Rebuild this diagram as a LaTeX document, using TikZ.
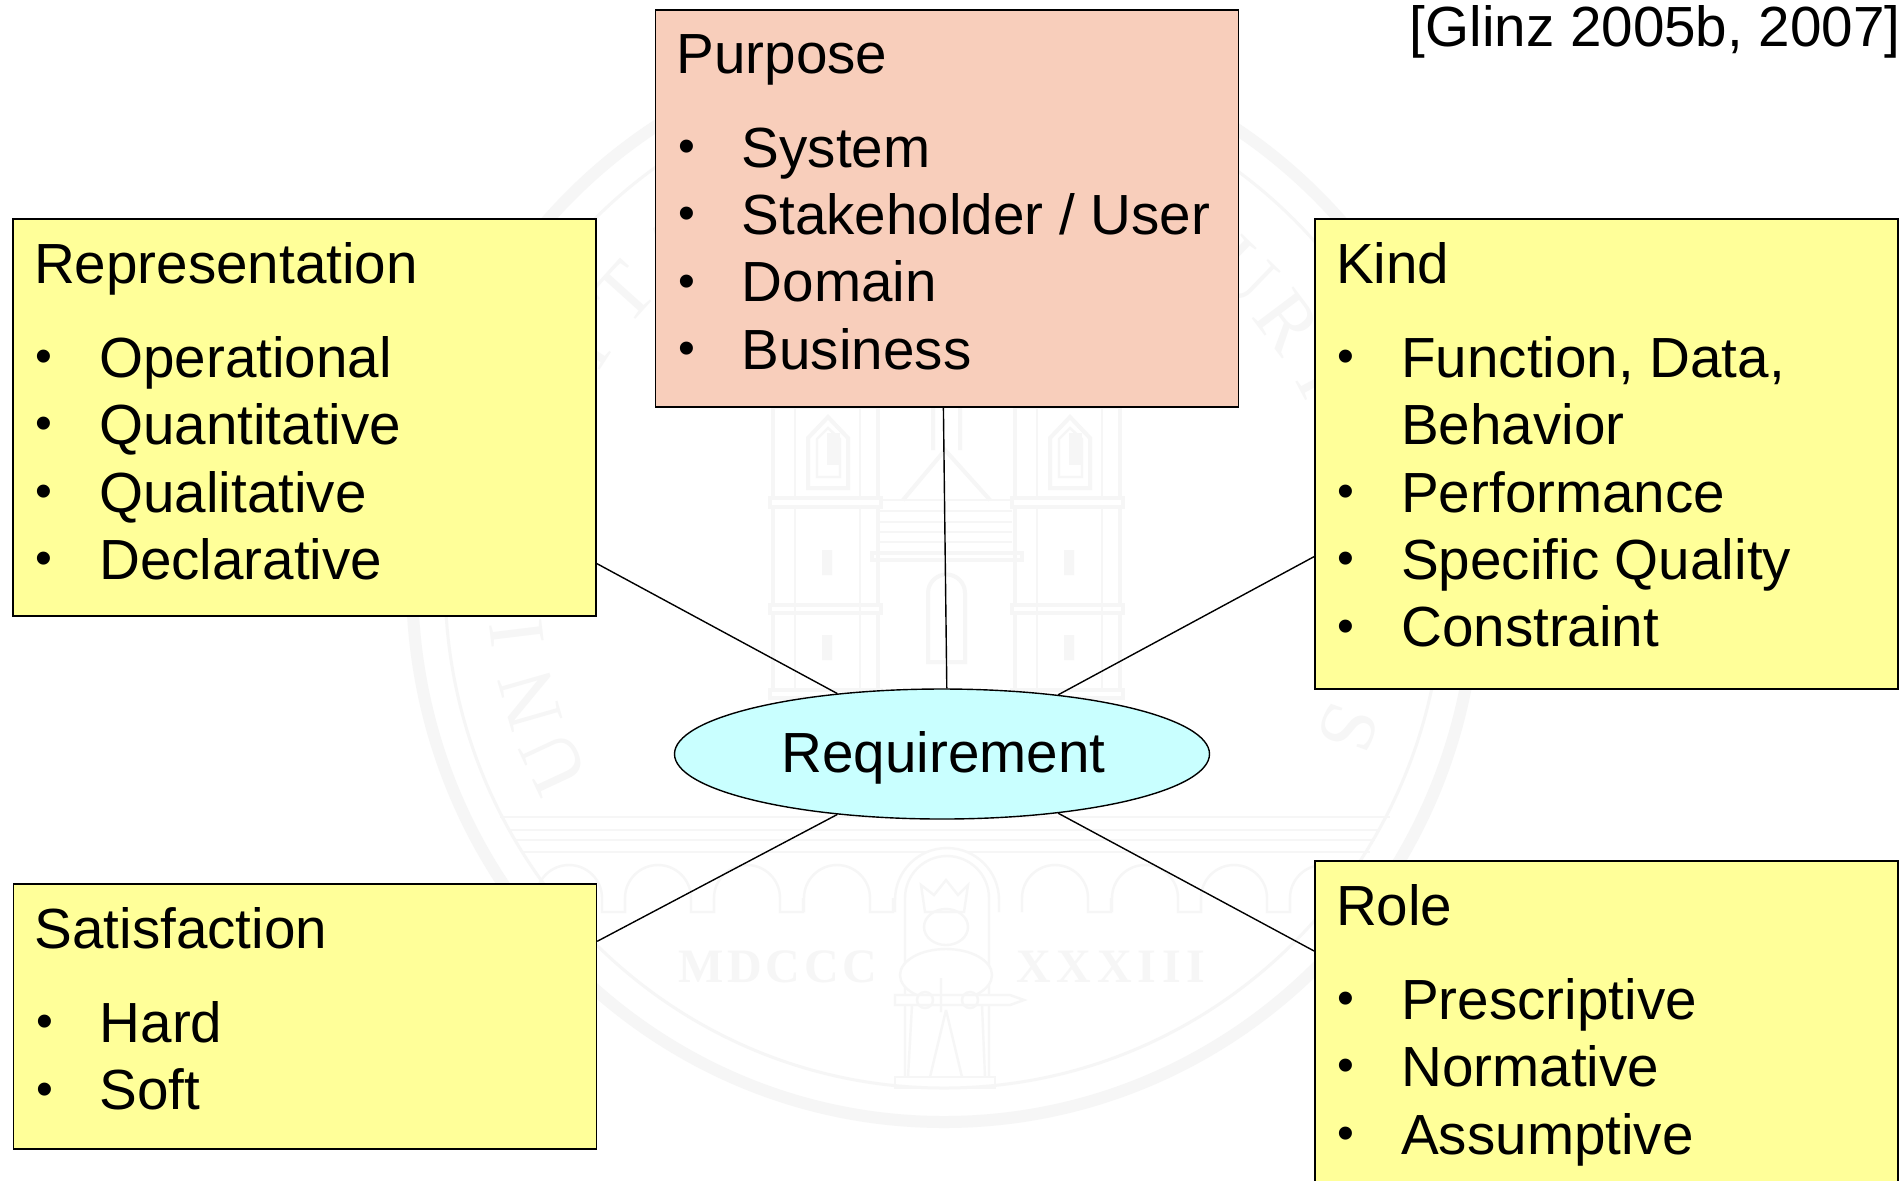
\documentclass[tikz,border=0pt]{standalone}
\usepackage{fontspec}
\setmainfont{Liberation Sans}
\newfontfamily\sealfont{Liberation Serif}
\usetikzlibrary{shapes.geometric}
\definecolor{boxyellow}{HTML}{FFFF99}
\definecolor{boxpeach}{HTML}{F8CEBB}
\definecolor{ellcyan}{HTML}{C9FFFF}
\definecolor{sealgray}{HTML}{F6F6F6}
\newcommand{\bitem}[1]{\makebox[32.6pt][l]{\hspace*{0.8pt}\fontsize{24}{24}\selectfont\raisebox{2.4pt}{\textbullet}}\spaceskip=7.8pt\relax #1}
\newcommand{\lift}[1]{\rule[-#1]{0pt}{0pt}}
\begin{document}
\begin{tikzpicture}[x=0.5pt,y=-0.5pt,
    seal/.style={draw=sealgray,line width=1.2pt},
    sealtext/.style={text=sealgray,inner sep=0pt,font={\sealfont\fontsize{40}{40}\selectfont}},
    sealyear/.style={text=sealgray,font={\sealfont\bfseries\fontsize{24}{24}\selectfont\addfontfeatures{LetterSpace=#1}}},
    listbox/.style={draw=black,line width=0.7pt,fill=boxyellow,rectangle,align=left,
      inner xsep=10.5pt,inner ysep=0pt,text width=270.5pt,minimum height=#1,
      font={\fontsize{28.3}{33.7}\selectfont}},
    listbox/.default=198.5pt,
    link/.style={draw=black,line width=0.7pt}]
  \clip (0,0) rectangle (1899,1180);
  \fill[white] (0,0) rectangle (1899,1180);
  \draw[seal,line width=6pt] (944,581) ellipse[x radius=532,y radius=541];
  \draw[seal,line width=1.5pt] (944,581) ellipse[x radius=499,y radius=507];
  \begin{scope}[shift={(944,581)}]
    \foreach \letter/\ang in {U/155,N/164,I/173,I/213,T/222,A/231,U/314,R/323,I/332,S/380}
      \node[sealtext,rotate=270-\ang] (letter\ang) at (\ang:430) {\letter};
  \end{scope}
  \draw[seal] (500,817) -- (1390,817) (510,830) -- (1380,830) (515,840) -- (1375,840) (522,852) -- (1370,852);
  \foreach \xa in {569,658,747,837,1055,1145,1234,1323}
    \draw[seal] (\xa-33,912) -- (\xa-33,898) arc[start angle=180,end angle=360,radius=33] -- ++(0,14) -- ++(23,0) -- ++(0,-14);
  \foreach \xa in {773,1015}
  {
    \draw[seal,line width=2pt] (\xa,407) rectangle ++(105,283);
    \draw[seal,fill=white,line width=2pt] (\xa-3,498) rectangle ++(111,9) (\xa-3,605) rectangle ++(111,8) (\xa-3,690) rectangle ++(111,8);
    \draw[seal] (\xa+22,407) -- ++(0,91) (\xa+87,407) -- ++(0,91) (\xa+22,507) -- ++(0,183) (\xa+87,507) -- ++(0,183);
    \draw[seal,line width=2pt] (\xa+35,488) -- ++(0,-50) -- ++(20,-21) -- ++(20,21) -- ++(0,50) -- cycle;
    \draw[seal] (\xa+44,477) -- ++(0,-38) -- ++(11,-11) -- ++(12,11) -- ++(0,38) -- cycle;
    \fill[sealgray] (\xa+54,465) rectangle ++(13,-32);
    \fill[sealgray] (\xa+49,575) rectangle ++(10,-25) (\xa+49,660) rectangle ++(10,-25);
  }
  \draw[seal,line width=2pt] (903,500) -- (945,450) -- (990,500) (933,450) -- (933,407) (960,450) -- (960,407);
  \draw[seal] (880,500) -- (1012,500) (880,511) -- (1012,511) (880,522) -- (1012,522) (880,532) -- (1012,532) (880,542) -- (1012,542);
  \draw[seal,line width=2pt] (872,553) rectangle (1022,560);
  \draw[seal,line width=2pt] (928,662) -- (928,593) arc[start angle=180,end angle=360,radius=18.5] -- (965,662) -- cycle;
  \node[sealyear=8] (yearleft) at (778,967) {MDCCC};
  \node[sealyear=12] (yearright) at (1111,967) {XXXIII};
  \draw[seal,fill=white] (895,912) -- (895,900) arc[start angle=180,end angle=360,radius=52] -- (999,912);
  \draw[seal] (905,1077) -- (905,898) arc[start angle=180,end angle=360,radius=42] -- (989,1077);
  \draw[seal] (925,912) -- (921,885) -- (934,895) -- (946,880) -- (958,895) -- (968,885) -- (964,912) -- cycle;
  \draw[seal] (946,927) ellipse[x radius=22,y radius=18];
  \draw[seal,fill=white] (946,975) ellipse[x radius=46,y radius=26];
  \draw[seal] (912,1005) -- (908,1077) (982,1005) -- (985,1077) (946,1010) -- (930,1077) (946,1010) -- (962,1077);
  \draw[seal,fill=white] (895,995) -- (1010,995) -- (1024,1000) -- (1010,1005) -- (895,1005) -- cycle;
  \draw[seal] (941,978) -- (941,1012) (925,1000) circle[radius=8] (970,1000) circle[radius=8];
  \draw[seal] (895,1077) rectangle (995,1088);

  \node[listbox=198.5pt,fill=boxpeach] (purpose) at (947,208.5) {Purpose\\[13.3pt]
    \bitem{System}\\\bitem{Stakeholder / User}\\\bitem{Domain}\\\bitem{Business}\lift{6.7pt}};
  \node[listbox] (representation) at (304.5,417.5) {Representation\\[13.3pt]
    \bitem{Operational}\\\bitem{Quantitative}\\\bitem{Qualitative}\\\bitem{Declarative}\lift{6.7pt}};
  \node[listbox=235pt] (kind) at (1606.5,454) {Kind\\[13.3pt]
    \bitem{Function, Data,}\\\hspace*{32.6pt}Behavior\\\bitem{Performance}\\\bitem{Specific Quality}\\\bitem{Constraint}\lift{9.5pt}};
  \node[listbox=132.5pt] (satisfaction) at (305,1016.5) {Satisfaction\\[13.3pt]
    \bitem{Hard}\\\bitem{Soft}\lift{7.9pt}};
  \node[listbox] (role) at (1606.5,1059.5) {Role\\[13.3pt]
    \bitem{Prescriptive}\\\bitem{Normative}\\\bitem{Assumptive}\\\mbox{}\lift{6.7pt}};
  \node[ellipse,draw=black,line width=0.7pt,fill=ellcyan,minimum width=267.5pt,minimum height=65pt,
    inner sep=0pt,font={\fontsize{28.3}{33.7}\selectfont}] (requirement) at (942,754) {\hspace*{1.6pt}\rule{0pt}{24.1pt}Requirement};
  \node[anchor=base east,inner sep=0pt,font={\fontsize{28.3}{32}\selectfont}] (source) at (1901,46) {[Glinz 2005b, 2007]};

  \draw[link] ([xshift=-1.8pt]purpose.south) -- ([xshift=2.4pt]requirement.north);
  \draw[link] ([yshift=26.6pt]representation.south east) -- (requirement.150.6);
  \draw[link] ([yshift=66.6pt]kind.south west) -- (requirement.27.3);
  \draw[link] ([yshift=-29pt]satisfaction.north east) -- (requirement.210.6);
  \draw[link] ([yshift=-45.4pt]role.north west) -- (requirement.333.2);
\end{tikzpicture}
\end{document}
